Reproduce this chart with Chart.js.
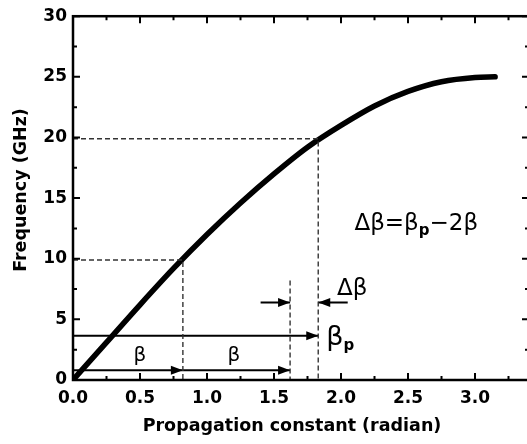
<!DOCTYPE html>
<html>
<head>
<meta charset="utf-8">
<script src="https://cdn.jsdelivr.net/npm/chart.js@4/dist/chart.umd.min.js"></script>
<style>
html,body{margin:0;padding:0;background:#fff;overflow:hidden;width:527px;height:444px;}
canvas{display:block;}
</style>
</head>
<body>
<canvas id="c" width="527" height="444"></canvas>
<script>
// ---- data ----
const xTicks = [0, 0.5, 1.0, 1.5, 2.0, 2.5, 3.0];
const yTicks = [0, 5, 10, 15, 20, 25, 30];
const beta = [0, 0.25, 0.5, 0.75, 1.0, 1.25, 1.5, 1.75, 2.0, 2.25, 2.5, 2.75, 3.0, 3.15];
const freq = [0, 3.1, 6.2, 9.2, 12.0, 14.6, 17.0, 19.2, 21.0, 22.6, 23.8, 24.6, 24.95, 25.0];
// dashed guide lines [x, y] points
const guideLow  = [[0, 9.9], [0.82, 9.9], [0.82, 0]];
const guideHigh = [[0, 19.9], [1.83, 19.9], [1.83, 0]];
const guideMid  = [[1.62, 8.2], [1.62, 0]];
// arrows: [from x, to x (head), y]
const arrows = [[0, 0.82, 0.8], [0.82, 1.62, 0.8], [0, 1.83, 3.65], [1.40, 1.62, 6.4], [2.05, 1.83, 6.4]];
const xTitle = 'Propagation constant (radian)';
const yTitle = 'Frequency (GHz)';

const pts = a => a.map(p => ({x: p[0], y: p[1]}));

const FONT = 'DejaVu Sans';
const tickFont = {family: FONT, size: 17, weight: 'bold'};

const datasets = [];
const guideStyle = {borderColor: '#333', borderWidth: 1.4, borderDash: [5, 3], pointRadius: 0, fill: false, tension: 0};
[guideLow, guideHigh, guideMid].forEach(g => datasets.push(Object.assign({data: pts(g)}, guideStyle)));
arrows.forEach(a => datasets.push({data: [{x: a[0], y: a[2]}, {x: a[1], y: a[2]}], borderColor: '#000', borderWidth: 2, pointRadius: 0, fill: false}));
datasets.push({
  data: beta.map((b, i) => ({x: b, y: freq[i]})),
  borderColor: '#000', borderWidth: 5.5, pointRadius: 0, fill: false,
  cubicInterpolationMode: 'monotone', borderCapStyle: 'round'
});

function drawParts(ctx, parts, x, y, align) {
  let total = 0;
  parts.forEach(p => { ctx.font = p.font; p.w = ctx.measureText(p.t).width; total += p.w + (p.gap || 0); });
  let cx = align === 'center' ? x - total / 2 : x;
  ctx.textBaseline = 'alphabetic';
  ctx.textAlign = 'left';
  parts.forEach(p => {
    ctx.font = p.font;
    ctx.fillText(p.t, cx, y + (p.dy || 0));
    cx += p.w + (p.gap || 0);
  });
}

const decor = {
  id: 'decor',
  afterDatasetsDraw(chart) {
    const {ctx, chartArea: a, scales: {x, y}} = chart;
    const R = a.right + 2; // right frame sits just outside the visible window
    ctx.save();
    ctx.strokeStyle = '#000';
    ctx.fillStyle = '#000';
    // frame
    ctx.lineWidth = 2.5;
    ctx.strokeRect(a.left, a.top, R - a.left, a.bottom - a.top);
    // inward ticks
    ctx.lineWidth = 2;
    const xs = [];
    xTicks.forEach((v, i) => { xs.push([v, 7]); const n = i < xTicks.length - 1 ? xTicks[i + 1] : v + (v - xTicks[i - 1]); xs.push([(v + n) / 2, 4]); });
    xs.forEach(([v, len]) => {
      const px = x.getPixelForValue(v);
      if (px > a.right) return;
      ctx.beginPath();
      ctx.moveTo(px, a.bottom); ctx.lineTo(px, a.bottom - len);
      ctx.moveTo(px, a.top); ctx.lineTo(px, a.top + len);
      ctx.stroke();
    });
    const ys = [];
    yTicks.forEach((v, i) => { ys.push([v, 7]); if (i < yTicks.length - 1) ys.push([(v + yTicks[i + 1]) / 2, 4]); });
    ys.forEach(([v, len]) => {
      const py = y.getPixelForValue(v);
      ctx.beginPath();
      ctx.moveTo(a.left, py); ctx.lineTo(a.left + len, py);
      ctx.moveTo(R, py); ctx.lineTo(R - len, py);
      ctx.stroke();
    });
    // x tick labels
    ctx.font = 'bold 17px ' + FONT;
    ctx.textAlign = 'center';
    ctx.textBaseline = 'middle';
    xTicks.forEach(v => ctx.fillText(v.toFixed(1), x.getPixelForValue(v), a.bottom + 19));
    // axis titles
    ctx.font = 'bold 17.5px ' + FONT;
    ctx.fillText(xTitle, 292, 426);
    ctx.save();
    ctx.translate(21, 190);
    ctx.rotate(-Math.PI / 2);
    ctx.fillText(yTitle, 0, 0);
    ctx.restore();
    // arrow heads
    arrows.forEach(([x0, x1, yv]) => {
      const tip = x.getPixelForValue(x1), py = y.getPixelForValue(yv);
      const dir = Math.sign(x1 - x0);
      ctx.beginPath();
      ctx.moveTo(tip, py);
      ctx.lineTo(tip - dir * 12, py - 4.5);
      ctx.lineTo(tip - dir * 12, py + 4.5);
      ctx.closePath();
      ctx.fill();
    });
    // labels
    const g = s => s + 'px ' + FONT;
    drawParts(ctx, [{t: 'β', font: g(20)}], x.getPixelForValue(0.5), y.getPixelForValue(1.55), 'center');
    drawParts(ctx, [{t: 'β', font: g(20)}], x.getPixelForValue(1.2), y.getPixelForValue(1.55), 'center');
    drawParts(ctx, [{t: 'β', font: g(27)}, {t: 'p', font: 'bold 15px ' + FONT, dy: 5}],
      x.getPixelForValue(1.89), y.getPixelForValue(2.9), 'left');
    drawParts(ctx, [{t: 'Δβ', font: g(23)}], x.getPixelForValue(1.97), y.getPixelForValue(7.0), 'left');
    drawParts(ctx, [
      {t: 'Δβ', font: g(23)}, {t: '=', font: g(23)}, {t: 'β', font: g(23)},
      {t: 'p', font: 'bold 15px ' + FONT, dy: 5}, {t: '−2β', font: g(23)}
    ], x.getPixelForValue(2.10), y.getPixelForValue(12.4), 'left');
    ctx.restore();
  },
  afterDraw(chart) {
    // keep the area below the clipped right corner blank
    const {ctx, chartArea: a} = chart;
    ctx.save();
    ctx.fillStyle = '#fff';
    ctx.fillRect(496, a.bottom + 3, 40, 30);
    ctx.restore();
  }
};

new Chart(document.getElementById('c'), {
  type: 'line',
  data: {datasets},
  options: {
    responsive: false, animation: false, devicePixelRatio: 1,
    layout: {padding: {top: 10, right: 0, left: 0, bottom: 0}},
    plugins: {legend: {display: false}, tooltip: {enabled: false}},
    scales: {
      x: {
        type: 'linear', min: 0, max: 3.388,
        afterFit: s => { s.height = 64; },
        grid: {display: false, drawTicks: false}, border: {display: false},
        ticks: {display: false},
        title: {display: false}
      },
      y: {
        type: 'linear', min: 0, max: 30,
        afterBuildTicks: s => { s.ticks = yTicks.map(v => ({value: v})); },
        afterFit: s => { s.width = 73; },
        grid: {display: false, drawTicks: false}, border: {display: false},
        ticks: {padding: 6, font: tickFont, color: '#000', autoSkip: false,
          callback: v => yTicks.some(t => Math.abs(t - v) < 1e-9) ? String(v) : ''},
        title: {display: false}
      }
    }
  },
  plugins: [decor]
});
</script>
</body>
</html>
